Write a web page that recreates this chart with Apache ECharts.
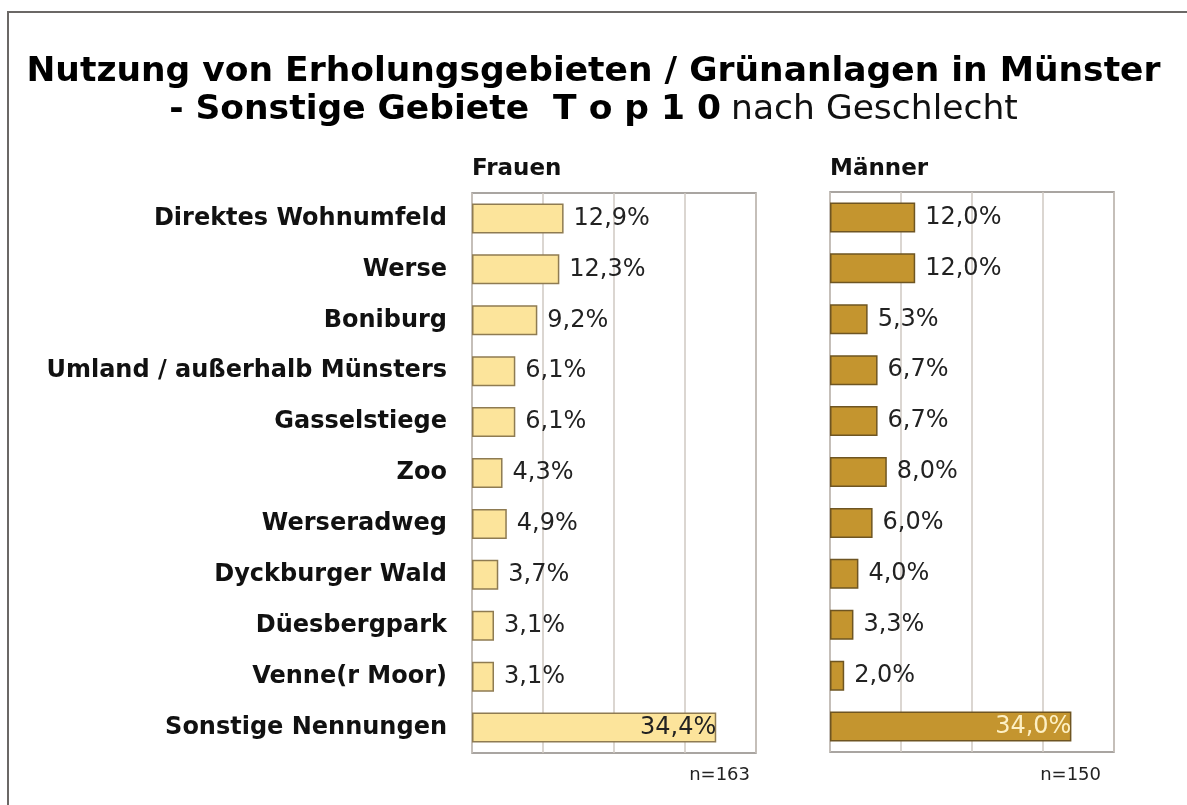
<!DOCTYPE html>
<html>
<head>
<meta charset="utf-8">
<script src="https://cdn.jsdelivr.net/npm/echarts@6/dist/echarts.min.js"></script>
<style>
  html, body { margin: 0; padding: 0; background: #fff; }
  #chart { width: 1187px; height: 805px; }
</style>
</head>
<body>
<div id="chart"></div>
<script>
// Kategorien (von oben nach unten)
const categories = [
  'Direktes Wohnumfeld', 'Werse', 'Boniburg', 'Umland / außerhalb Münsters',
  'Gasselstiege', 'Zoo', 'Werseradweg', 'Dyckburger Wald', 'Düesbergpark',
  'Venne(r Moor)', 'Sonstige Nennungen'
]
const frauen = [12.9, 12.3, 9.2, 6.1, 6.1, 4.3, 4.9, 3.7, 3.1, 3.1, 34.4]
const maenner = [12.0, 12.0, 5.3, 6.7, 6.7, 8.0, 6.0, 4.0, 3.3, 2.0, 34.0]
const panelTitles = ['Frauen', 'Männer']
const sampleSizes = ['n=163', 'n=150']

const FONT = 'DejaVu Sans'
const fmt = v => v.toFixed(1).replace('.', ',') + '%'

const chart = echarts.init(document.getElementById('chart'), null, { renderer: 'canvas' })

// letzte Zeile (Sonstige) bekommt das Label innen rechts
function buildData(values, lastColor) {
  return values.map((v, i) => {
    if (i !== values.length - 1) return v
    return {
      value: v,
      label: { position: 'insideRight', distance: 0, color: lastColor }
    }
  })
}

function xAxis(gridIndex) {
  return {
    type: 'value', gridIndex, min: 0, max: 40, interval: 10,
    axisLabel: { show: false }, axisTick: { show: false }, axisLine: { show: false },
    splitLine: { show: true, lineStyle: { color: '#cfc9c2', width: 1.5 } }
  }
}

function yAxis(gridIndex, showLabels) {
  return {
    type: 'category', gridIndex, data: categories, inverse: true,
    axisTick: { show: false }, axisLine: { show: false },
    axisLabel: {
      show: showLabels, margin: 25, fontFamily: FONT, fontWeight: 'bold',
      fontSize: 24, color: '#111'
    }
  }
}

const barLabel = {
  show: true, position: 'right', distance: 10, formatter: p => fmt(p.value),
  fontFamily: FONT, fontSize: 24, color: '#222'
}

const option = {
  backgroundColor: '#fff',
  animation: false,
  title: [
    {
      left: 'center', top: 50,
      text: 'Nutzung von Erholungsgebieten / Grünanlagen in Münster',
      textStyle: { fontFamily: FONT, fontWeight: 'bold', fontSize: 34.5, color: '#000' }
    },
    {
      left: 'center', top: 88,
      text: '{b|- Sonstige Gebiete  T o p 1 0}  {n|nach Geschlecht}',
      textStyle: {
        rich: {
          b: { fontFamily: FONT, fontWeight: 'bold', fontSize: 34.5, color: '#000' },
          n: { fontFamily: FONT, fontWeight: 'normal', fontSize: 34.5, color: '#111' }
        }
      }
    }
  ],
  grid: [
    { left: 472, top: 193, width: 284, height: 560, show: true, borderColor: '#8d8883', borderWidth: 1.5, backgroundColor: '#fff' },
    { left: 830, top: 192, width: 284, height: 560, show: true, borderColor: '#8d8883', borderWidth: 1.5, backgroundColor: '#fff' }
  ],
  xAxis: [xAxis(0), xAxis(1)],
  yAxis: [yAxis(0, true), yAxis(1, false)],
  series: [
    {
      type: 'bar', xAxisIndex: 0, yAxisIndex: 0, barWidth: 30,
      data: buildData(frauen, '#222'),
      itemStyle: { color: '#fce49b', borderColor: '#8e7b52', borderWidth: 1.5 },
      label: barLabel
    },
    {
      type: 'bar', xAxisIndex: 1, yAxisIndex: 1, barWidth: 30,
      data: buildData(maenner, '#fdf0c4'),
      itemStyle: { color: '#c4952f', borderColor: '#6e5522', borderWidth: 1.5 },
      label: barLabel
    }
  ],
  graphic: [
    // äußerer Rahmen
    { type: 'rect', silent: true, z: -1, shape: { x: 8, y: 12, width: 1200, height: 820 },
      style: { fill: 'none', stroke: '#6b6866', lineWidth: 2 } },
    { type: 'text', left: 472, top: 158, style: { text: panelTitles[0], fontFamily: FONT, fontWeight: 'bold', fontSize: 23, fill: '#111' } },
    { type: 'text', left: 830, top: 158, style: { text: panelTitles[1], fontFamily: FONT, fontWeight: 'bold', fontSize: 23, fill: '#111' } },
    { type: 'text', right: 1187 - 750, top: 766, style: { text: sampleSizes[0], fontFamily: FONT, fontSize: 18, fill: '#222' } },
    { type: 'text', right: 1187 - 1101, top: 766, style: { text: sampleSizes[1], fontFamily: FONT, fontSize: 18, fill: '#222' } }
  ]
}

chart.setOption(option)
</script>
</body>
</html>
